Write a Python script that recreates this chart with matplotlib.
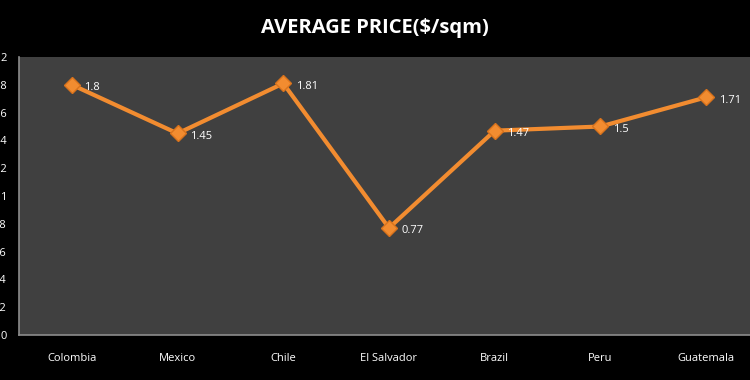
import matplotlib.pyplot as plt

countries = ['Colombia', 'Mexico', 'Chile', 'El Salvador', 'Brazil', 'Peru', 'Guatemala']
prices = [1.8, 1.45, 1.81, 0.77, 1.47, 1.5, 1.71]
yticks = [0, 0.2, 0.4, 0.6, 0.8, 1, 1.2, 1.4, 1.6, 1.8, 2]
ylabels = ['0', '0.2', '0.4', '0.6', '0.8', '1', '1.2', '1.4', '1.6', '1.8', '2']

plt.rcParams['font.family'] = ['Open Sans', 'DejaVu Sans']

fig = plt.figure(figsize=(7.5, 3.8), dpi=100, facecolor='black')
# plot area runs past the right edge, like the cropped original
ax = fig.add_axes([19 / 750, 45 / 380, 740 / 750, 278 / 380])
ax.set_facecolor('#404040')

x = list(range(len(countries)))
ax.plot(x, prices, color='#f28c30', linewidth=3, marker='D', markersize=8,
        markerfacecolor='#f28c30', markeredgecolor='#d9731c', zorder=3)
for xi, v in zip(x, prices):
    ax.annotate(str(v), (xi, v), xytext=(9, -2), textcoords='offset points',
                color='white', fontsize=8, va='center', ha='left')

ax.set_xlim(-0.5, len(countries) - 0.5)
ax.set_ylim(0, 2)
ax.set_xticks(x)
ax.set_xticklabels(countries)
ax.set_yticks(yticks)
ax.set_yticklabels(ylabels)
ax.tick_params(axis='both', length=0, colors='white', labelsize=8)
ax.tick_params(axis='x', pad=13)
ax.tick_params(axis='y', pad=9)

for s in ['top', 'right']:
    ax.spines[s].set_visible(False)
for s in ['left', 'bottom']:
    ax.spines[s].set_color('#8c8c8c')
    ax.spines[s].set_linewidth(1.2)

fig.text(0.5, 0.925, 'AVERAGE PRICE($/sqm)', color='white', fontsize=14.5,
         fontweight='bold', ha='center', va='center')

fig.savefig('out.png', dpi=100, facecolor='black')
